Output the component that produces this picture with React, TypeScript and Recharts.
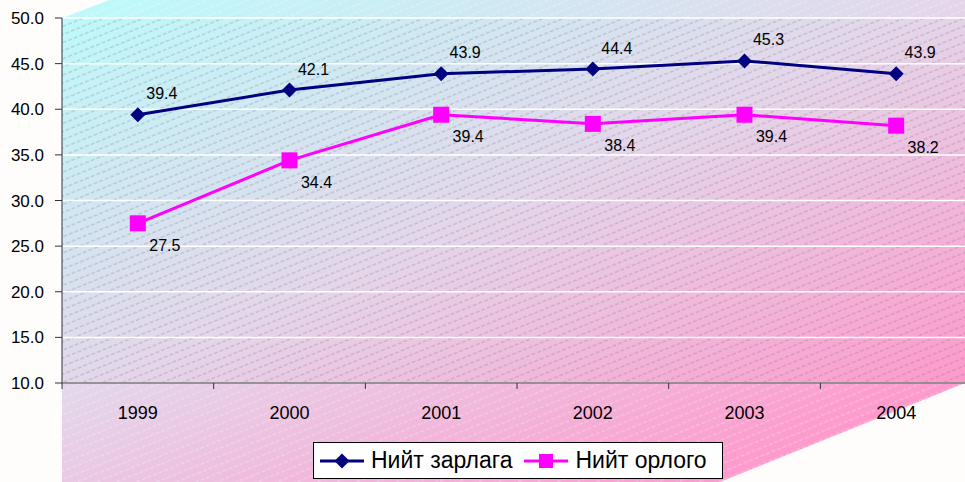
import React from "react";
import {
  LineChart,
  Line,
  XAxis,
  YAxis,
  CartesianGrid,
  Legend,
  LabelList,
} from "recharts";

const years = ["1999", "2000", "2001", "2002", "2003", "2004"];
const zarlaga = [39.4, 42.1, 43.9, 44.4, 45.3, 43.9];
const orlogo = [27.5, 34.4, 39.4, 38.4, 39.4, 38.2];
const yTicks = [10, 15, 20, 25, 30, 35, 40, 45, 50];
const seriesNames = ["Нийт зарлага", "Нийт орлого"];

const data = years.map((year, i) => ({
  year,
  zarlaga: zarlaga[i],
  orlogo: orlogo[i],
}));

const FONT = "'Liberation Sans', Arial, sans-serif";
const NAVY = "#000080";
const MAGENTA = "#ff00ff";

const Diamond = ({ cx, cy, r = 7.5 }: any) => (
  <path
    d={`M${cx},${cy - r} L${cx + r},${cy} L${cx},${cy + r} L${cx - r},${cy} Z`}
    fill={NAVY}
  />
);

const Square = ({ cx, cy, s = 16 }: any) => (
  <rect x={cx - s / 2} y={cy - s / 2} width={s} height={s} fill={MAGENTA} />
);

const makeLabel = (dx: number, dy: number) => (p: any) => (
  <text
    x={p.x + dx}
    y={p.y + dy}
    textAnchor="middle"
    dominantBaseline="central"
    fontSize={16}
    fontFamily={FONT}
    fill="#000"
  >
    {Number(p.value).toFixed(1)}
  </text>
);

// tick marks sit between the categories, labels in the middle
const XTick = (props: any) => {
  const { x, y, payload } = props;
  const half = 75.8;
  return (
    <g>
      <line x1={x - half} y1={y - 8} x2={x - half} y2={y - 2} stroke="#333" />
      <text x={x} y={y + 28} textAnchor="middle" fontSize={18} fontFamily={FONT} fill="#000">
        {payload.value}
      </text>
    </g>
  );
};

const LegendBox = () => (
  <div
    style={{
      width: 408,
      height: 35,
      border: "1px solid #000",
      background: "#fff",
      display: "flex",
      alignItems: "center",
      fontFamily: FONT,
      fontSize: 23,
      color: "#000",
      boxSizing: "content-box",
      whiteSpace: "nowrap",
    }}
  >
    <svg width={44} height={20} style={{ marginLeft: 6, marginRight: 7 }}>
      <line x1={0} y1={10} x2={44} y2={10} stroke={NAVY} strokeWidth={3} />
      <Diamond cx={22} cy={10} r={7.5} />
    </svg>
    <span style={{ marginRight: 12 }}>{seriesNames[0]}</span>
    <svg width={44} height={20} style={{ marginRight: 7 }}>
      <line x1={0} y1={10} x2={44} y2={10} stroke={MAGENTA} strokeWidth={3} />
      <Square cx={22} cy={10} s={14} />
    </svg>
    <span>{seriesNames[1]}</span>
  </div>
);

export default function App() {
  return (
    <div style={{ position: "relative", width: 965, height: 482, overflow: "hidden", background: "#fffdfb" }}>
      <style>{"body{margin:0}"}</style>
      <svg width={965} height={482} style={{ position: "absolute", left: 0, top: 0 }}>
        <defs>
          <linearGradient id="bgGrad" gradientUnits="userSpaceOnUse" x1={62} y1={0} x2={360} y2={670}>
            <stop offset="0" stopColor="#bcfbfb" />
            <stop offset="0.5" stopColor="#e4d6ea" />
            <stop offset="1" stopColor="#ff96ca" />
          </linearGradient>
          <pattern id="hatchWhite" patternUnits="userSpaceOnUse" width={12} height={7.5} patternTransform="rotate(-22)">
            <line x1={0} y1={3} x2={12} y2={3} stroke="#ffffff" strokeOpacity={0.45} strokeWidth={0.8} strokeDasharray="4 2" />
          </pattern>
          <pattern id="hatchGrey" patternUnits="userSpaceOnUse" width={12} height={7.5} patternTransform="rotate(-22)">
            <line x1={0} y1={3} x2={12} y2={3} stroke="#707070" strokeOpacity={0.55} strokeWidth={0.7} strokeDasharray="4 2" />
          </pattern>
        </defs>
        <polygon points="62,18 109,0 965,0 965,383 720,482 62,482" fill="url(#bgGrad)" />
        <path
          d="M62,18 L109,0 L965,0 L965,383 L720,482 L62,482 Z M62,18 L972,18 L972,383 L62,383 Z"
          fill="url(#hatchWhite)"
          fillRule="evenodd"
        />
      </svg>
      <div style={{ position: "absolute", left: 0, top: 0 }}>
        <LineChart width={972} height={482} data={data} margin={{ top: 18, right: 0, bottom: 0, left: 0 }}>
          <CartesianGrid vertical={false} stroke="#ffffff" strokeWidth={1.5} fill="url(#hatchGrey)" />
          <XAxis
            dataKey="year"
            scale="band"
            height={99}
            interval={0}
            axisLine={{ stroke: "#333" }}
            tickLine={false}
            tickSize={6}
            tickMargin={2}
            tick={<XTick />}
          />
          <YAxis
            width={62}
            domain={[10, 50]}
            ticks={yTicks}
            tickFormatter={(v: number) => v.toFixed(1)}
            tickSize={7}
            tickMargin={11}
            axisLine={{ stroke: "#333" }}
            tickLine={{ stroke: "#333" }}
            tick={{ fill: "#000", fontSize: 17, fontFamily: FONT }}
          />
          <Legend
            layout="horizontal"
            verticalAlign="middle"
            align="center"
            content={() => <LegendBox />}
            wrapperStyle={{ top: 442, left: 313, width: 410, height: 37 }}
          />
          <Line
            type="linear"
            dataKey="zarlaga"
            name={seriesNames[0]}
            stroke={NAVY}
            strokeWidth={3}
            dot={(p: any) => <Diamond key={`d-${p.index}`} cx={p.cx} cy={p.cy} />}
            activeDot={false}
            isAnimationActive={false}
          >
            <LabelList dataKey="zarlaga" content={makeLabel(24, -21)} />
          </Line>
          <Line
            type="linear"
            dataKey="orlogo"
            name={seriesNames[1]}
            stroke={MAGENTA}
            strokeWidth={3}
            dot={(p: any) => <Square key={`s-${p.index}`} cx={p.cx} cy={p.cy} />}
            activeDot={false}
            isAnimationActive={false}
          >
            <LabelList dataKey="orlogo" content={makeLabel(27, 22)} />
          </Line>
        </LineChart>
      </div>
    </div>
  );
}
